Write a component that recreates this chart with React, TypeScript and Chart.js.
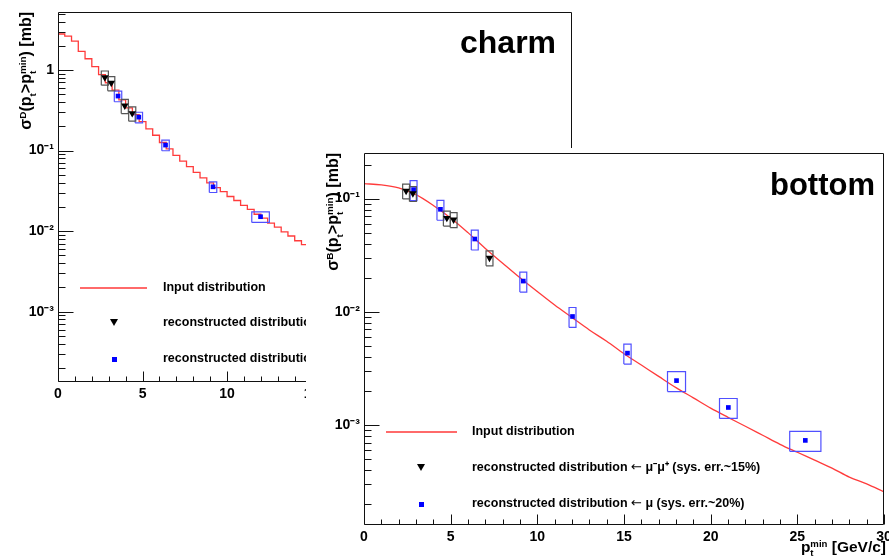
import React, { useEffect, useRef } from 'react';
import { Chart, registerables } from 'chart.js';
Chart.register(...registerables);

const FONT = '"Liberation Sans", Arial, Helvetica, sans-serif';

// ---------------- charm panel data ----------------
const charmBinEdges = [0, 0.4, 0.8, 1.2, 1.6, 2.0, 2.4, 2.8, 3.2, 3.6, 4.0, 4.4, 4.8, 5.2, 5.6, 6.0, 6.4, 6.8, 7.2, 7.6, 8.0, 8.4, 8.8, 9.2, 9.6, 10.0, 10.4, 10.8, 11.2, 11.6, 12.0, 12.4, 12.8, 13.2, 13.6, 14.0, 14.4, 14.8, 15.2, 15.6];
const charmBinValues = [2.8, 2.63, 2.29, 1.7, 1.38, 1.1, 0.879, 0.695, 0.562, 0.427, 0.339, 0.279, 0.229, 0.186, 0.155, 0.126, 0.105, 0.0871, 0.0741, 0.0631, 0.0537, 0.0457, 0.0398, 0.0347, 0.0309, 0.0269, 0.024, 0.0209, 0.0186, 0.0162, 0.0145, 0.0126, 0.0112, 0.0098, 0.0087, 0.0076, 0.0068, 0.0059, 0.0052];

const charmMuMuX = [2.77, 3.15, 3.95, 4.39];
const charmMuMuY = [0.81, 0.69, 0.36, 0.29];
const charmMuMuHalfW = [0.21, 0.21, 0.21, 0.21];
const charmMuMuSys = 0.2;

const charmMuX = [3.55, 4.78, 6.36, 9.17, 11.98];
const charmMuY = [0.475, 0.26, 0.117, 0.0355, 0.0151];
const charmMuHalfW = [0.22, 0.22, 0.22, 0.22, 0.52];
const charmMuSys = 0.15;

// ---------------- bottom panel data ----------------
const bottomCurveX = [0, 1, 2, 3, 4, 5, 6, 7, 8, 9, 10, 11, 12, 13, 14, 15, 16, 17, 18, 19, 20, 21, 22, 23, 24, 25, 26, 27, 28, 29, 30];
const bottomCurveY = [0.1355, 0.1324, 0.1245, 0.1084, 0.0871, 0.0676, 0.0501, 0.0363, 0.0269, 0.02, 0.0151, 0.01148, 0.00891, 0.00692, 0.0055, 0.00427, 0.00339, 0.00269, 0.00214, 0.00174, 0.00141, 0.00117, 0.000977, 0.000813, 0.000676, 0.000575, 0.00049, 0.000417, 0.000347, 0.000302, 0.000257];

const bottomMuMuX = [2.43, 2.82, 4.78, 5.17, 7.24];
const bottomMuMuY = [0.117, 0.111, 0.0674, 0.0653, 0.030];
const bottomMuMuHalfW = [0.2, 0.2, 0.2, 0.2, 0.2];
const bottomMuMuSys = 0.15;

const bottomMuX = [2.86, 4.41, 6.39, 9.19, 12.03, 15.2, 18.03, 21.02, 25.46];
const bottomMuY = [0.12, 0.0805, 0.044, 0.0187, 0.0091, 0.00432, 0.00247, 0.00143, 0.000732];
const bottomMuHalfW = [0.2, 0.2, 0.2, 0.2, 0.2, 0.21, 0.52, 0.51, 0.9];
const bottomMuSys = 0.2;

const xTickLabels = ['0', '5', '10', '15', '20', '25', '30'];

// ---------------- helpers ----------------
const SUP: Record<string, string> = { '-': '\u207B', '0': '\u2070', '1': '\u00B9', '2': '\u00B2', '3': '\u00B3', '4': '\u2074' };

function decadeLabel(v: number): string {
  const e = Math.round(Math.log10(v));
  if (Math.abs(v / Math.pow(10, e) - 1) > 1e-6) return '';
  if (e === 0) return '1';
  return '10' + String(e).split('').map((c) => SUP[c] || c).join('');
}

function boxPoints(xs: number[], ys: number[], halfW: number[], rel: number) {
  const pts: any[] = [];
  xs.forEach((x, i) => {
    const lo = ys[i] * (1 - rel);
    const hi = ys[i] * (1 + rel);
    const x0 = x - halfW[i];
    const x1 = x + halfW[i];
    pts.push({ x: x0, y: lo }, { x: x1, y: lo }, { x: x1, y: hi }, { x: x0, y: hi }, { x: x0, y: lo }, { x: x0, y: null });
  });
  return pts;
}

const rootAxes = {
  id: 'rootAxes',
  afterDraw(chart: any) {
    const { ctx, chartArea: a, scales } = chart;
    const xs = scales.x;
    const ys = scales.y;
    const L = Math.round(a.left) + 0.5;
    const R = Math.round(a.right) - 0.5;
    const T = Math.round(a.top) + 0.5;
    const B = Math.round(a.bottom) - 0.5;
    ctx.save();
    ctx.strokeStyle = '#111';
    ctx.lineWidth = 1;
    ctx.beginPath();
    ctx.moveTo(L, T); ctx.lineTo(R, T); ctx.lineTo(R, B); ctx.lineTo(L, B); ctx.closePath();
    xs.ticks.forEach((t: any) => {
      const px = Math.round(xs.getPixelForValue(t.value)) + 0.5;
      if (px < L - 1 || px > R + 1) return;
      const major = Math.abs(t.value % 5) < 1e-6;
      ctx.moveTo(px, B);
      ctx.lineTo(px, B - (major ? 10 : 5));
    });
    ys.ticks.forEach((t: any) => {
      const py = Math.round(ys.getPixelForValue(t.value)) + 0.5;
      if (py < T - 1 || py > B + 1) return;
      const major = decadeLabel(t.value) !== '';
      ctx.moveTo(L, py);
      ctx.lineTo(L + (major ? 15 : 7), py);
    });
    ctx.stroke();
    ctx.restore();
  },
};

function zeroPad(s: any) {
  s.paddingLeft = 0;
  s.paddingRight = 0;
  s.paddingTop = 0;
  s.paddingBottom = 0;
}

function makeOptions(p: { xMax: number; yMin: number; yMax: number; padTop: number; padRight: number; yWidth: number; xHeight: number }) {
  return {
    responsive: false,
    animation: false,
    devicePixelRatio: 1,
    events: [],
    layout: { padding: { top: p.padTop, right: p.padRight, left: 0, bottom: 0 } },
    plugins: { legend: { display: false }, tooltip: { enabled: false } },
    scales: {
      x: {
        type: 'linear',
        min: 0,
        max: p.xMax,
        afterFit: (s: any) => { s.height = p.xHeight; zeroPad(s); },
        afterBuildTicks: (s: any) => {
          const t: any[] = [];
          for (let v = 0; v <= Math.floor(p.xMax); v++) t.push({ value: v });
          s.ticks = t;
        },
        grid: { display: false, drawTicks: false },
        border: { display: false },
        ticks: {
          autoSkip: false,
          maxRotation: 0,
          padding: 4,
          color: '#000',
          font: { family: FONT, size: 14, weight: 'bold' },
          callback: (v: any) => {
            const s = String(Math.round(Number(v)));
            return xTickLabels.includes(s) && Math.abs(Number(v) % 5) < 1e-6 ? s : '';
          },
        },
      },
      y: {
        type: 'logarithmic',
        min: p.yMin,
        max: p.yMax,
        afterFit: (s: any) => { s.width = p.yWidth; zeroPad(s); },
        afterBuildTicks: (s: any) => {
          const t: any[] = [];
          for (let e = -5; e <= 1; e++) {
            for (let m = 1; m <= 9; m++) {
              const v = m * Math.pow(10, e);
              if (v >= p.yMin && v <= p.yMax) t.push({ value: v });
            }
          }
          s.ticks = t;
        },
        grid: { display: false, drawTicks: false },
        border: { display: false },
        ticks: {
          autoSkip: false,
          padding: 4,
          color: '#000',
          font: { family: FONT, size: 14, weight: 'bold' },
          callback: (v: any) => decadeLabel(Number(v)),
        },
      },
    },
  };
}

function datasets(
  curve: any[], stepped: boolean,
  mmX: number[], mmY: number[], mmW: number[], mmSys: number,
  mX: number[], mY: number[], mW: number[], mSys: number,
) {
  return [
    {
      data: mmX.map((x, i) => ({ x, y: mmY[i] })),
      showLine: false,
      pointStyle: 'triangle',
      pointRotation: 180,
      pointRadius: 4.3,
      pointBackgroundColor: '#000',
      pointBorderWidth: 0,
    },
    {
      data: mX.map((x, i) => ({ x, y: mY[i] })),
      showLine: false,
      pointStyle: 'rect',
      pointRadius: 3.3,
      pointBackgroundColor: '#0000ff',
      pointBorderWidth: 0,
    },
    {
      data: boxPoints(mmX, mmY, mmW, mmSys),
      borderColor: '#555',
      borderWidth: 1.2,
      pointRadius: 0,
      spanGaps: false,
    },
    {
      data: boxPoints(mX, mY, mW, mSys),
      borderColor: '#5050ff',
      borderWidth: 1.2,
      pointRadius: 0,
      spanGaps: false,
    },
    {
      data: curve,
      borderColor: '#ff3b3b',
      borderWidth: 1.3,
      pointRadius: 0,
      stepped: stepped ? 'before' : false,
      cubicInterpolationMode: stepped ? 'default' : 'monotone',
    },
  ];
}

function useChart(ref: React.RefObject<HTMLCanvasElement>, build: () => any) {
  useEffect(() => {
    if (!ref.current) return;
    const chart = new Chart(ref.current, build());
    return () => chart.destroy();
  }, []);
}

const txt: React.CSSProperties = { position: 'absolute', fontFamily: FONT, fontWeight: 'bold', color: '#000', whiteSpace: 'nowrap' };

function PtMin() {
  return (
    <span>
      p
      <span style={{ display: 'inline-block', verticalAlign: '-0.45em', fontSize: '0.62em', lineHeight: '0.95em', textAlign: 'left' }}>
        <span style={{ display: 'block' }}>min</span>
        <span style={{ display: 'block' }}>t</span>
      </span>
    </span>
  );
}

function YTitle({ letter, left, top }: { letter: string; left: number; top: number }) {
  const W = 150;
  return (
    <div style={{ ...txt, left, top: top + W, width: W, fontSize: 16, lineHeight: '20px', textAlign: 'right', transform: 'rotate(-90deg)', transformOrigin: 'left top' }}>
      σ<span style={{ fontSize: '0.62em', verticalAlign: '0.55em' }}>{letter}</span>(p<span style={{ fontSize: '0.62em', verticalAlign: '-0.45em' }}>t</span>&gt;<PtMin />) [mb]
    </div>
  );
}

const arrow = <span style={{ fontFamily: '"DejaVu Sans", sans-serif', fontWeight: 'normal', fontSize: '1.05em' }}>←</span>;

function LegendText({ left, cy, children }: { left: number; cy: number; children: React.ReactNode }) {
  return <div style={{ ...txt, left, top: cy - 9, fontSize: 12.5, lineHeight: '16px' }}>{children}</div>;
}

function LegendLine({ left, width, cy }: { left: number; width: number; cy: number }) {
  return <div style={{ position: 'absolute', left, top: cy - 1, width, height: 2, background: '#ff6a6a' }} />;
}

function LegendTri({ cx, cy }: { cx: number; cy: number }) {
  return <div style={{ position: 'absolute', left: cx - 4, top: cy - 4, width: 0, height: 0, borderLeft: '4px solid transparent', borderRight: '4px solid transparent', borderTop: '7px solid #000' }} />;
}

function LegendSq({ cx, cy }: { cx: number; cy: number }) {
  return <div style={{ position: 'absolute', left: cx - 2.5, top: cy - 2.5, width: 5, height: 5, background: '#0000ff' }} />;
}

export default function App() {
  const charmRef = useRef<HTMLCanvasElement>(null);
  const bottomRef = useRef<HTMLCanvasElement>(null);

  useChart(charmRef, () => {
    const curve = charmBinEdges.map((x, i) => ({ x, y: charmBinValues[Math.min(i, charmBinValues.length - 1)] }));
    return {
      type: 'line',
      data: { datasets: datasets(curve, true, charmMuMuX, charmMuMuY, charmMuMuHalfW, charmMuMuSys, charmMuX, charmMuY, charmMuHalfW, charmMuSys) },
      options: makeOptions({ xMax: 30.4, yMin: 1.34e-4, yMax: 5.25, padTop: 12, padRight: 8, yWidth: 58, xHeight: 38 }),
      plugins: [rootAxes],
    };
  });

  useChart(bottomRef, () => {
    const curve = bottomCurveX.map((x, i) => ({ x, y: bottomCurveY[i] }));
    return {
      type: 'line',
      data: { datasets: datasets(curve, false, bottomMuMuX, bottomMuMuY, bottomMuMuHalfW, bottomMuMuSys, bottomMuX, bottomMuY, bottomMuHalfW, bottomMuSys) },
      options: makeOptions({ xMax: 30, yMin: 1.31e-4, yMax: 0.253, padTop: 5, padRight: 5, yWidth: 58, xHeight: 35 }),
      plugins: [rootAxes],
    };
  });

  return (
    <div style={{ position: 'absolute', left: 0, top: 0, width: 889, height: 560, overflow: 'hidden', background: '#fff' }}>
      {/* charm pad */}
      <div style={{ position: 'absolute', left: 0, top: 0, width: 580, height: 420 }}>
        <canvas ref={charmRef} width={580} height={420} style={{ position: 'absolute', left: 0, top: 0, width: 580, height: 420 }} />
        <div style={{ ...txt, left: 460, top: 26, fontSize: 32, lineHeight: '32px' }}>charm</div>
        <YTitle letter="D" left={13} top={12} />
        <LegendLine left={80} width={67} cy={288} />
        <LegendText left={163} cy={288}>Input distribution</LegendText>
        <LegendTri cx={114} cy={323} />
        <LegendText left={163} cy={323}>reconstructed distribution {arrow} μ⁻μ⁺ (sys. err.~20%)</LegendText>
        <LegendSq cx={114} cy={359} />
        <LegendText left={163} cy={359}>reconstructed distribution {arrow} μ (sys. err.~15%)</LegendText>
      </div>
      {/* bottom pad */}
      <div style={{ position: 'absolute', left: 306, top: 148, width: 583, height: 412, background: '#fff' }}>
        <canvas ref={bottomRef} width={583} height={412} style={{ position: 'absolute', left: 0, top: 0, width: 583, height: 412 }} />
        <div style={{ ...txt, left: 464, top: 21, fontSize: 31, lineHeight: '31px' }}>bottom</div>
        <YTitle letter="B" left={14} top={5} />
        <LegendLine left={80} width={71} cy={284} />
        <LegendText left={166} cy={284}>Input distribution</LegendText>
        <LegendTri cx={115} cy={320} />
        <LegendText left={166} cy={320}>reconstructed distribution {arrow} μ⁻μ⁺ (sys. err.~15%)</LegendText>
        <LegendSq cx={115} cy={356} />
        <LegendText left={166} cy={356}>reconstructed distribution {arrow} μ (sys. err.~20%)</LegendText>
        <div style={{ ...txt, right: 3, top: 390, fontSize: 15.5, lineHeight: '18px', textAlign: 'right' }}>
          <PtMin /> [GeV/c]
        </div>
      </div>
    </div>
  );
}
